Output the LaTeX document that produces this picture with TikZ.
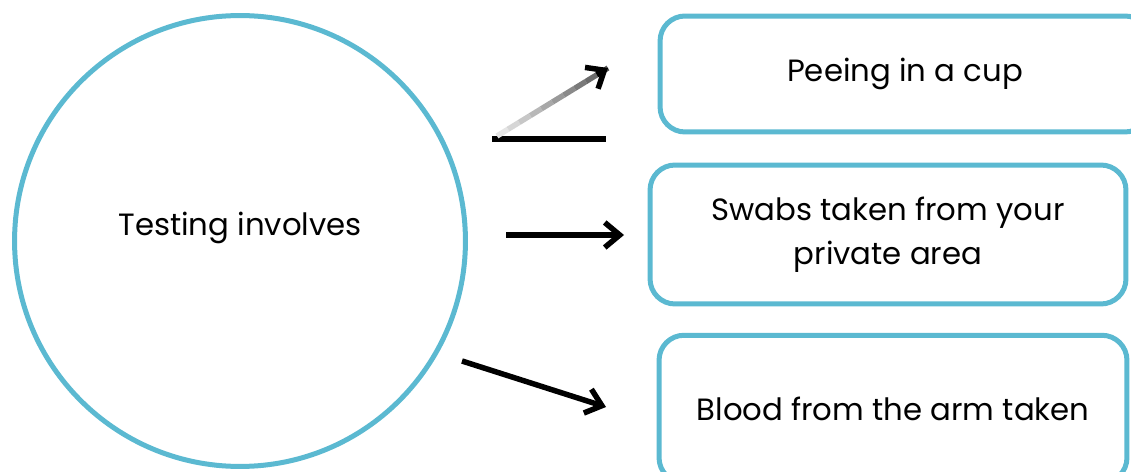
\documentclass[tikz,border=0pt]{standalone}
\usepackage{fontspec}
\setmainfont{Poppins}
\usepackage{xcolor}
\usetikzlibrary{positioning,calc,arrows.meta}
\definecolor{ringblue}{RGB}{91,185,209}

\begin{document}
\begin{tikzpicture}[x=0.02cm, y=-0.02cm,
        box/.style={draw=ringblue, line width=0.1cm, rounded corners=0.5cm, align=center, font=\fontsize{17.5}{25}\selectfont},
        arr/.style={line width=0.11cm, -{Straight Barb[length=0.3cm, width=0.5cm]}}]
        \useasboundingbox (0,0) rectangle (1131,472);
        \clip (0,0) rectangle (1131,472);
        
        \node[circle, draw=ringblue, line width=0.1cm, minimum size=9.02cm, inner sep=0pt] (ring) at (240,241) {};
        \node[font=\fontsize{17.5}{25}\selectfont] (ringtext) at (240,228) {Testing involves};
        
        \node[box, minimum width=9.8cm, minimum height=2.32cm] (cup) at (905,74) {Peeing in a cup};
        \node[box, minimum width=9.52cm, minimum height=2.78cm] (swab) at (888,234.5) {Swabs taken from your\\private area};
        \node[box, minimum width=9.36cm, minimum height=2.95cm] (blood) at (893,409) {Blood from the arm taken};
        
        \coordinate (barleft) at (492,139);
        \coordinate (barright) at (606,139);
        \coordinate (cupfrom) at (497,136);
        \coordinate (cupto) at (608,68);
        \coordinate (swabfrom) at (506,235);
        \coordinate (swabto) at (624,235);
        \coordinate (bloodfrom) at (462,361);
        \coordinate (bloodto) at (606,407);
        
        \draw[line width=0.11cm] (barleft) -- (barright);
        \foreach \i in {0,...,9} {
            \pgfmathtruncatemacro{\shade}{10+6*\i}
            \draw[line width=0.11cm, black!\shade] ($(cupfrom)!{\i/10}!(cupto)$) -- ($(cupfrom)!{(\i+1)/10}!(cupto)$);
        }
        \draw[arr] ($(cupfrom)!0.9!(cupto)$) -- (cupto);
        \draw[arr] (swabfrom) -- (swabto);
        \draw[arr] (bloodfrom) -- (bloodto);
    \end{tikzpicture}
\end{document}
